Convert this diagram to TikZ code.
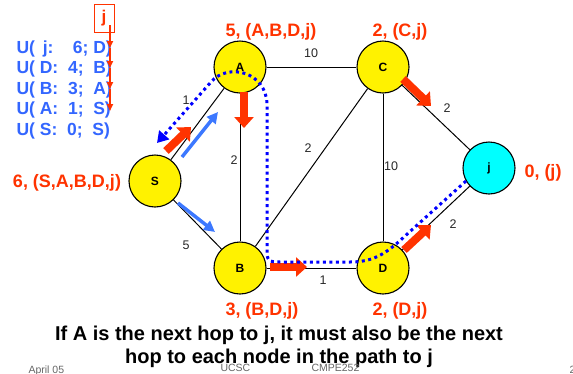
\documentclass[tikz,border=0pt]{standalone}
\usepackage{fontspec}
\setmainfont{Liberation Sans}
\usetikzlibrary{arrows.meta}
\definecolor{labred}{RGB}{255,51,0}
\definecolor{textblue}{RGB}{51,102,255}
\definecolor{probeblue}{RGB}{60,120,255}
\definecolor{pathblue}{RGB}{0,0,255}
\definecolor{destcyan}{RGB}{0,255,255}
\begin{document}
\begin{tikzpicture}[x=1pt,y=-1pt,
    vertex/.style={circle, draw, line width=1.1pt, fill=yellow, minimum size=52pt, inner sep=0pt, font=\fontsize{12}{14}\selectfont\bfseries},
    link/.style={line width=1pt},
    weight/.style={font=\fontsize{12.5}{14}\selectfont, text=black!85},
    cost/.style={font=\fontsize{18}{20}\selectfont\bfseries, text=labred, anchor=base},
    table/.style={font=\fontsize{17.5}{20}\selectfont\bfseries, text=textblue, anchor=base west},
    hop/.style={labred, line width=8pt, -{Triangle[length=11pt,width=19pt]}},
    probe/.style={probeblue, line width=3.5pt, -{Triangle[length=11pt,width=11pt]}},
    route/.style={pathblue, line width=3pt, dash pattern=on 3pt off 3.5pt, -{Triangle[length=11pt,width=13pt]}},
    tick/.style={labred, line width=1.6pt, -{Triangle[length=7pt,width=6pt]}},
    footer/.style={font=\fontsize{10.5}{12}\selectfont, text=black!60, anchor=base west}]
  \useasboundingbox (0,0) rectangle (573,373);
  % nodes
  \node[vertex] (A) at (240,67) {A};
  \node[vertex] (C) at (383,67) {C};
  \node[vertex] (S) at (155,181) {S};
  \node[vertex] (B) at (240,268) {B};
  \node[vertex] (D) at (383,268) {D};
  \node[vertex, fill=destcyan] (j) at (489,168) {j};
  % links
  \draw[link] (A) -- (C);
  \draw[link] (A) -- (S);
  \draw[link] (A) -- (B);
  \draw[link] (S) -- (B);
  \draw[link] (B) -- (C);
  \draw[link] (C) -- (D);
  \draw[link] (C) -- (j);
  \draw[link] (B) -- (D);
  \draw[link] (D) -- (j);
  % weights
  \node[weight] (wAC) at (311,53) {10};
  \node[weight] (wSA) at (186,100) {1};
  \node[weight] (wAB) at (234,160) {2};
  \node[weight] (wBC) at (308,148) {2};
  \node[weight] (wCD) at (391,166) {10};
  \node[weight] (wCj) at (447,108) {2};
  \node[weight] (wDj) at (453,224) {2};
  \node[weight] (wSB) at (186,245) {5};
  \node[weight] (wBD) at (323,280) {1};
  % distances and paths
  \node[cost] (cA) at (271,36) {5, (A,B,D,j)};
  \node[cost] (cC) at (400,36) {2, (C,j)};
  \node[cost] (cS) at (67,187) {6, (S,A,B,D,j)};
  \node[cost] (cB) at (262,315) {3, (B,D,j)};
  \node[cost] (cD) at (400,315) {2, (D,j)};
  \node[cost] (cj) at (543,177) {0, (j)};
  % next hops
  \coordinate (hS1) at (166,151);
  \coordinate (hS2) at (191,127);
  \draw[hop] (hS1) -- (hS2);
  \coordinate (hA1) at (244,92);
  \coordinate (hA2) at (244,128);
  \draw[hop] (hA1) -- (hA2);
  \coordinate (hC1) at (403,79);
  \coordinate (hC2) at (431,106);
  \draw[hop] (hC1) -- (hC2);
  \coordinate (hB1) at (270,267);
  \coordinate (hB2) at (307,267);
  \draw[hop] (hB1) -- (hB2);
  \coordinate (hD1) at (404,250);
  \coordinate (hD2) at (431,225);
  \draw[hop] (hD1) -- (hD2);
  % updates sent by S
  \coordinate (pA1) at (182,157);
  \coordinate (pA2) at (218,112);
  \draw[probe] (pA1) -- (pA2);
  \coordinate (pB1) at (178,203);
  \coordinate (pB2) at (215,232);
  \draw[probe] (pB1) -- (pB2);
  % path from j back to S
  \coordinate (r0) at (466,181);
  \coordinate (r1) at (405,236);
  \coordinate (r2) at (350,262);
  \coordinate (r3) at (283,262);
  \coordinate (r4) at (267,105);
  \coordinate (r5) at (211,82);
  \coordinate (r6) at (157,143);
  \draw[route] (r0) -- (r1) .. controls (385,255) and (372,262) .. (r2) -- (r3)
    .. controls (267,262) .. (267,246) -- (r4)
    .. controls (267,72) and (228,62) .. (r5) -- (r6);
  % update table
  \node[draw=labred, line width=0.8pt, minimum width=20pt, minimum height=28pt, inner sep=0pt,
    font=\fontsize{17}{20}\selectfont\bfseries, text=labred] (jbox) at (104,18) {j};
  \node[table] (u1) at (13,53) {U(\ \,j:\ \ \ \ 6;\ D)};
  \node[table] (u2) at (13,73.5) {U(\ D:\ \ 4;\ \ B)};
  \node[table] (u3) at (13,94) {U(\ B:\ \ 3;\ \ A)};
  \node[table] (u4) at (13,114) {U(\ A:\ \ 1;\ \ S)};
  \node[table] (u5) at (13,135) {U(\ S:\ \ 0;\ \ S)};
  \coordinate (k0) at (110,25);
  \coordinate (k1) at (110,48);
  \coordinate (k2) at (110,68);
  \coordinate (k3) at (110,89);
  \coordinate (k4) at (110,111);
  \draw[tick] (k0) -- (k1);
  \draw[tick] (k1) -- (k2);
  \draw[tick] (k2) -- (k3);
  \draw[tick] (k3) -- (k4);
  % caption
  \node[font=\fontsize{20}{23}\selectfont\bfseries, align=center, anchor=base] (note) at (279,363)
    {If A is the next hop to j, it must also be the next\\hop to each node in the path to j};
  \node[footer] (f1) at (25,373) {April 05};
  \node[footer] (f2) at (217,371) {UCSC};
  \node[footer] (f3) at (308,371) {CMPE252};
  \node[footer] (f4) at (566,373) {2};
\end{tikzpicture}
\end{document}
